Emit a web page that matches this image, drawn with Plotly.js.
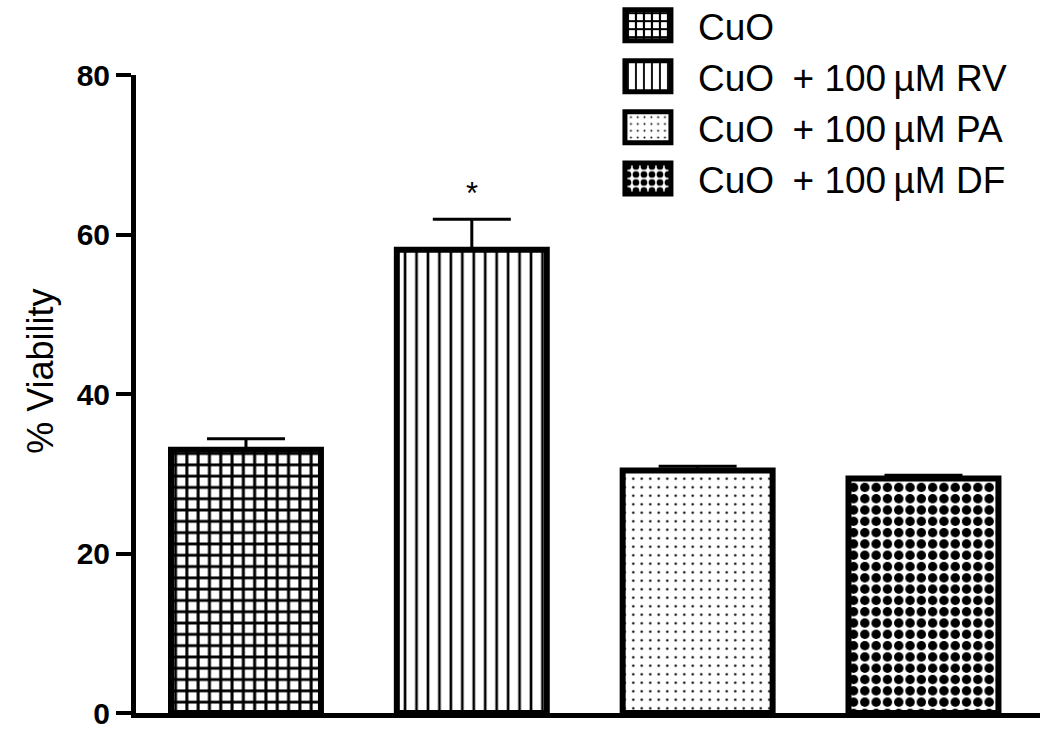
<!DOCTYPE html>
<html>
<head>
<meta charset="utf-8">
<script src="https://cdn.plot.ly/plotly-3.0.1.min.js"></script>
<style>
  html, body { margin: 0; padding: 0; background: #fff; }
  #chart { width: 1050px; height: 731px; }
</style>
</head>
<body>
<div id="chart"></div>
<script>
const groups = ['CuO', 'CuO\u2002+ 100\u2009\u00b5M RV', 'CuO\u2002+ 100\u2009\u00b5M PA', 'CuO\u2002+ 100\u2009\u00b5M DF']
const viability = [33.0, 58.1, 30.4, 29.4]
const sem = [1.4, 3.8, 0.55, 0.4]
const significance = ['', '*', '', '']
const yTicks = [0, 20, 40, 60, 80]

const patterns = [
  {shape: '+', size: 11.3, solidity: 0.46},
  {shape: '|', size: 11.45, solidity: 0.23},
  {shape: '.', size: 8.5, solidity: 0.065},
  {shape: '.', size: 11.3, solidity: 0.55}
]

const font = 'Arial, "Liberation Sans", sans-serif'

const traces = groups.map((name, i) => ({
  type: 'bar',
  name: name,
  x: [name],
  y: [viability[i]],
  width: 0.664,
  marker: {
    color: 'white',
    line: {color: 'black', width: 6},
    pattern: Object.assign({fgcolor: 'black', bgcolor: 'white', fillmode: 'replace'}, patterns[i])
  },
  error_y: {
    type: 'data',
    symmetric: false,
    array: [sem[i]],
    arrayminus: [0],
    color: 'black',
    thickness: 3,
    width: 39
  },
  hoverinfo: 'skip'
}))

const stars = groups
  .map((name, i) => ({name, i}))
  .filter(d => significance[d.i])
  .map(d => ({
    x: d.name,
    y: viability[d.i] + sem[d.i] + 3.2,
    text: significance[d.i],
    showarrow: false,
    font: {family: font, size: 31, color: 'black'}
  }))

// y title as a rotated annotation so it can sit a bit above the middle
const yTitle = {
  xref: 'paper', yref: 'paper',
  x: -0.106, y: 0.535,
  xanchor: 'center', yanchor: 'middle',
  text: '% Viability',
  textangle: -90,
  showarrow: false,
  font: {family: font, size: 36, color: 'black'}
}

const layout = {
  width: 1050,
  height: 731,
  margin: {l: 136, r: 10, t: 75, b: 18, autoexpand: false},
  paper_bgcolor: 'white',
  plot_bgcolor: 'white',
  barmode: 'overlay',
  showlegend: true,
  legend: {
    x: 0.511,
    xanchor: 'left',
    y: 1.126,
    yanchor: 'top',
    bgcolor: 'rgba(0,0,0,0)',
    itemwidth: 90,
    font: {family: font, size: 37, color: 'black'}
  },
  xaxis: {
    type: 'category',
    range: [-0.487, 3.516],
    showline: true,
    linewidth: 5,
    linecolor: 'black',
    showticklabels: false,
    ticks: '',
    showgrid: false,
    zeroline: false,
    fixedrange: true
  },
  yaxis: {
    range: [0, 80],
    tickvals: yTicks,
    showline: true,
    linewidth: 5,
    linecolor: 'black',
    ticks: 'outside',
    ticklen: 15,
    tickwidth: 4,
    tickcolor: 'black',
    tickfont: {family: font, size: 30, weight: 'bold', color: 'black'},
    showgrid: false,
    zeroline: false,
    automargin: false
  },
  annotations: stars.concat([yTitle])
}

Plotly.newPlot('chart', traces, layout, {staticPlot: true}).then(gd => {
  // bigger legend swatches, like the original figure
  gd.querySelectorAll('.legendpoints path').forEach(p => {
    p.setAttribute('d', 'M23,15.5H-23V-15.5H23Z')
    p.style.strokeWidth = '5px'
  })
})
</script>
</body>
</html>
